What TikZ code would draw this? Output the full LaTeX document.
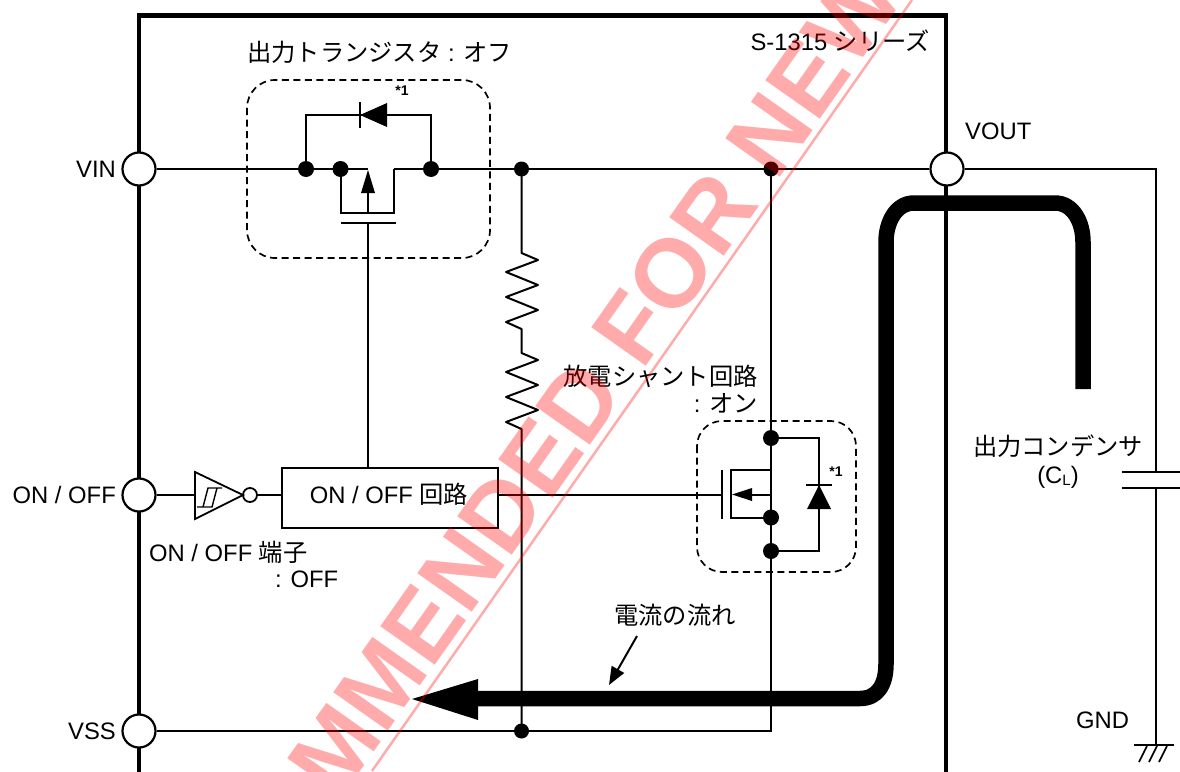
\documentclass[tikz,border=0pt]{standalone}
\usepackage{fontspec}
\setmainfont{Liberation Sans}
\newfontfamily\cjk[Scale=1.02]{Noto Sans CJK JP}
\usetikzlibrary{arrows.meta}
\newcommand{\J}[1]{{\cjk #1}}
\tikzset{
  wire/.style={line width=2pt,line cap=butt},
  frame/.style={line width=4.2pt},
  term/.style={circle,draw,fill=white,line width=2.2pt,minimum size=33pt,inner sep=0pt},
  dotn/.style={circle,fill=black,minimum size=16pt,inner sep=0pt},
  bub/.style={circle,draw,fill=white,line width=1.8pt,minimum size=14pt,inner sep=0pt},
  dashbox/.style={draw,line width=1.7pt,dash pattern=on 7pt off 4.5pt},
  lbl/.style={inner sep=0pt,font=\fontsize{23.8}{28}\selectfont},
  star/.style={inner sep=0pt,font=\fontsize{14}{16}\selectfont\bfseries},
  flow/.style={line width=15.5pt,line cap=butt,line join=round},
}
\begin{document}
\begin{tikzpicture}[x=1pt,y=-1pt]
\useasboundingbox (0,0) rectangle (1180,771);
\clip (0,0) rectangle (1180,771);
\fill[white] (0,0) rectangle (1180,771);
% chip frame
\draw[frame] (139,790) -- (139,15.5) -- (946,15.5) -- (946,790);
% dashed groups
\draw[dashbox,rounded corners=28pt] (247,80) rectangle (490,258);
\draw[dashbox,rounded corners=25pt] (697,421) rectangle (856,572);
% junction nodes
\node[term] (vin) at (139,169) {};
\node[term] (onoff) at (139,495) {};
\node[term] (vss) at (139,731) {};
\node[term] (vout) at (947,169) {};
\coordinate (dL) at (306,169);
\coordinate (chL) at (340.5,169);
\coordinate (dR) at (431,169);
\coordinate (j1) at (521.5,169);
\coordinate (j2) at (771,169);
\coordinate (j3) at (521.5,731);
\coordinate (corner) at (771,731);
\coordinate (srcTop) at (771,438);
\coordinate (srcMid) at (771,517.5);
\coordinate (srcBot) at (771,551);
% logic box
\node[draw,line width=2.2pt,minimum width=216pt,minimum height=60pt,inner sep=0pt,anchor=north west] (ctl) at (281,467) {};
% rails
\draw[wire] (vin) -- (chL) -- (368,169);
\draw[wire] (394,169) -- (dR) -- (vout);
\draw[wire] (vss) -- (corner) -- (j2);
\draw[wire] (vout) -- (1156,169) -- (1156,472);
\coordinate (capB) at (1156,488);
\coordinate (gndp) at (1156,745);
\draw[wire] (capB) -- (gndp);
% P-MOSFET
\draw[wire] (chL) -- (340.5,213) -- (394,213) -- (394,169);
\draw[wire] (368,213) -- (368,185);
\fill (368,170) -- (375,193) -- (361,193) -- cycle;
\draw[line width=2.4pt] (341,223) -- (396,223);
\draw[wire] (368,223) -- (ctl.north -| 368,0);
% body diode top
\draw[wire] (dL) -- (306,115) -- (431,115) -- (dR);
\fill (360,115) -- (387,103) -- (387,127) -- cycle;
\draw[wire] (360,102) -- (360,128);
% resistors
\draw[wire,line join=round] (j1) -- (521.5,253) -- (538,260) -- (506,272) -- (538,285) -- (506,297) -- (538,310) -- (506,322) -- (521.5,329) -- (521.5,353) -- (538,360) -- (506,372) -- (538,385) -- (506,397) -- (538,410) -- (506,422) -- (521.5,429) -- (j3);
% inverter
\node[bub] (bubl) at (250,495) {};
\coordinate (invIn) at (195,495);
\draw[wire] (onoff) -- (invIn);
\draw[line width=1.8pt,line join=miter,fill=white] (195,472) -- (243,495) -- (195,519) -- cycle;
\draw[line width=1.4pt] (197,507) -- (212,507) -- (217,488) -- (222,488) (203,507) -- (208,488) -- (217,488);
\draw[wire] (bubl) -- (ctl.west |- bubl);
% shunt N-MOSFET
\coordinate (gateN) at (722,495);
\draw[wire] (ctl.east |- gateN) -- (gateN);
\draw[line width=2.4pt] (722,470) -- (722,519);
\draw[wire] (srcTop) -- (771,470) -- (730.5,470) -- (730.5,517.5) -- (srcMid);
\draw[wire] (srcMid) -- (771,494.5) -- (750,494.5);
\fill (732,494.5) -- (752,488) -- (752,501) -- cycle;
\draw[wire] (srcTop) -- (819,438) -- (819,551) -- (srcBot);
\fill (819,485) -- (831,509) -- (807,509) -- cycle;
\draw[wire] (806,485) -- (832,485);
% capacitor plates
\draw[wire] (1122,472) -- (1190,472);
\draw[wire] (1122,488) -- (1190,488);
% ground
\draw[wire] (1134,745) -- (1174,745);
\draw[line width=1.7pt] (1147,746) -- (1139,762) (1157,746) -- (1149,762) (1167,746) -- (1159,762);
% dots
\foreach \p/\n in {dL/a,chL/b,dR/c,srcTop/d,srcMid/e,srcBot/f}{\node[dotn] (dot\n) at (\p) {};}
\node[dotn,minimum size=15pt] (dotg) at (j1) {};
\node[dotn,minimum size=15pt] (doth) at (j2) {};
\node[dotn,minimum size=15pt] (dotk) at (j3) {};
% thick current path
\coordinate (fa) at (1083,389);
\coordinate (fb) at (478,698.5);
\draw[flow] (fa) -- (1083,242) .. controls (1083,222) and (1073,203) .. (1055,203) -- (914,203) .. controls (896,203) and (886,222) .. (886,242) -- (886,664) .. controls (886,684) and (878,698.5) .. (860,698.5) -- (fb);
\fill (412,699) -- (478,679) -- (478,720) -- cycle;
% small pointer
\coordinate (pt) at (637,636);
\coordinate (ph) at (609,685);
\draw[line width=2pt,-{Triangle[length=18pt,width=14pt]}] (pt) -- (ph);
% labels
\node[lbl,anchor=base west] (t1) at (247,61) {\J{出力トランジスタ} : \J{オフ}};
\node[lbl,anchor=base east] (t2) at (930,50) {S-1315 \J{シリーズ}};
\node[lbl,anchor=base east] (t3) at (116,177) {VIN};
\node[lbl,anchor=base west] (t4) at (965,139) {VOUT};
\node[lbl,anchor=base east] (t5) at (116,503) {ON / OFF};
\node[lbl,anchor=base east] (t6) at (116,739) {VSS};
\node[lbl,anchor=base] (t7) at (389,503) {ON / OFF \J{回路}};
\node[lbl,anchor=base west] (t8) at (149,561) {ON / OFF \J{端子}};
\node[lbl,anchor=base west] (t9) at (275,587) {: OFF};
\node[lbl,anchor=base east] (t10) at (758,385) {\J{放電シャント回路}};
\node[lbl,anchor=base east] (t11) at (758,412) {: \J{オン}};
\node[lbl,anchor=base] (t12) at (1058,455) {\J{出力コンデンサ}};
\node[lbl,anchor=base] (t13) at (1058,483) {(C\raisebox{-2.5pt}{\fontsize{15}{15}\selectfont L})};
\node[lbl,anchor=base] (t14) at (675,624) {\J{電流の流れ}};
\node[lbl,anchor=base west] (t15) at (1076,728) {GND};
\node[star] (s1) at (402,91) {*1};
\node[star] (s2) at (836,472) {*1};
% watermark
\node[inner sep=0pt,anchor=base west,rotate=54.8,text=red,text opacity=.33,font=\fontsize{97}{100}\selectfont\bfseries] (wm) at (338,803) {MMENDED FOR NEW};
\coordinate (ua) at (372,771);
\coordinate (ub) at (912,0);
\draw[red,opacity=.33,line width=2.5pt] (ua) -- (ub);
\end{tikzpicture}
\end{document}
